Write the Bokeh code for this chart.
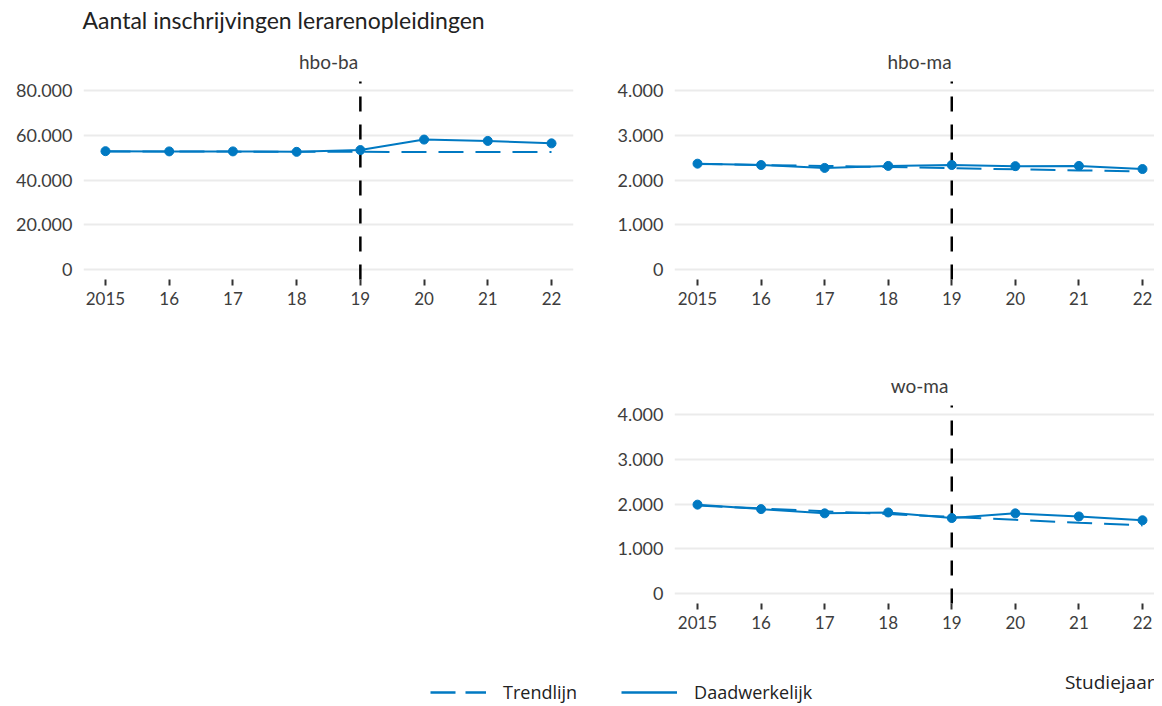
from bokeh.plotting import figure
from bokeh.models import Range1d, FixedTicker, Legend, LegendItem, Label, Spacer
from bokeh.layouts import column, row
from bokeh.embed import file_html
from bokeh.resources import INLINE

# ---------------- data ----------------
years = [2015, 2016, 2017, 2018, 2019, 2020, 2021, 2022]
year_labels = ["2015", "16", "17", "18", "19", "20", "21", "22"]
break_year = 2019

hbo_ba_actual = [53000, 52900, 52900, 52700, 53500, 58200, 57600, 56500]
hbo_ba_trend = [52900, 52850, 52800, 52750, 52700, 52650, 52650, 52600]

hbo_ma_actual = [2370, 2340, 2275, 2320, 2340, 2315, 2320, 2250]
hbo_ma_trend = [2365, 2340, 2320, 2295, 2270, 2245, 2220, 2195]

wo_ma_actual = [1990, 1890, 1795, 1815, 1690, 1795, 1725, 1640]
wo_ma_trend = [1970, 1905, 1840, 1780, 1715, 1650, 1585, 1525]

ba_ticks = [0, 20000, 40000, 60000, 80000]
ba_labels = ["0", "20.000", "40.000", "60.000", "80.000"]
ma_ticks = [0, 1000, 2000, 3000, 4000]
ma_labels = ["0", "1.000", "2.000", "3.000", "4.000"]

title_text = "Aantal inschrijvingen lerarenopleidingen"
legend_labels = ["Trendlijn", "Daadwerkelijk"]
x_title = "Studiejaar"

# ---------------- style ----------------
BLUE = "#0079C2"
TEXT = "#3d3d3d"
DARK = "#222222"
GRID = "#ebebeb"
FONT = "Lato"
LFONT = "Open Sans"
PANEL_H = 202      # height of the plotting panel (px)
STRIP_H = 33       # strip above the panel that holds the facet title
PX_PER_T = 178.6   # px between 0 and the top tick


def make_panel(name, actual, trend, ticks, labels, width, mb_left, mb_right,
               x_start, x_end, mb_bottom):
    top = ticks[-1]
    y_lo = -14 / PX_PER_T * top
    y_panel_top = top + 9.4 / PX_PER_T * top
    y_hi = y_panel_top + STRIP_H / PX_PER_T * top
    p = figure(width=width, height=STRIP_H + PANEL_H + mb_bottom,
               output_backend="svg", toolbar_location=None,
               min_border_left=mb_left, min_border_right=mb_right,
               min_border_top=0, min_border_bottom=mb_bottom,
               x_range=Range1d(x_start, x_end),
               y_range=Range1d(y_lo, y_hi))
    p.outline_line_color = None

    # facet strip title
    p.add_layout(Label(x=245, y=PANEL_H + 20, x_units="screen", y_units="screen",
                       text=name, text_align="center", text_baseline="middle",
                       text_font=FONT, text_font_size="19px", text_color=TEXT))

    p.xgrid.grid_line_color = None
    p.ygrid.grid_line_color = GRID
    p.ygrid.grid_line_width = 2
    p.ygrid.ticker = FixedTicker(ticks=ticks)

    p.yaxis.ticker = FixedTicker(ticks=ticks)
    p.yaxis.major_label_overrides = {t: l for t, l in zip(ticks, labels)}
    p.yaxis.axis_line_color = None
    p.yaxis.major_tick_line_color = None
    p.yaxis.minor_tick_line_color = None
    p.yaxis.major_label_standoff = 5
    p.yaxis.major_label_text_font = FONT
    p.yaxis.major_label_text_font_size = "18px"
    p.yaxis.major_label_text_color = TEXT

    p.xaxis.ticker = FixedTicker(ticks=years)
    p.xaxis.major_label_overrides = {y: l for y, l in zip(years, year_labels)}
    p.xaxis.axis_line_color = None
    p.xaxis.minor_tick_line_color = None
    p.xaxis.major_tick_line_color = "#333333"
    p.xaxis.major_tick_line_width = 2
    p.xaxis.major_tick_in = 4
    p.xaxis.major_tick_out = 2
    p.xaxis.major_label_standoff = 6
    p.xaxis.major_label_text_font = FONT
    p.xaxis.major_label_text_font_size = "17px"
    p.xaxis.major_label_text_color = TEXT

    # break line (spans the panel, not the strip)
    p.segment(x0=[break_year], y0=[y_panel_top], x1=[break_year], y1=[y_lo],
              line_color="black", line_width=2.5, line_dash="15 13",
              line_dash_offset=13)
    p.line(years, trend, line_color=BLUE, line_width=2, line_dash="25 12")
    p.line(years, actual, line_color=BLUE, line_width=2)
    p.scatter(years, actual, size=9, fill_color=BLUE, line_color=BLUE)
    return p


W = 1154

# header
HEAD_H = 48
head = figure(width=W, height=HEAD_H, output_backend="svg", toolbar_location=None,
              min_border=0, x_range=Range1d(0, 1), y_range=Range1d(0, 1))
head.axis.visible = False
head.grid.visible = False
head.outline_line_color = None
head.add_layout(Label(x=82, y=HEAD_H - 19, x_units="screen", y_units="screen",
                      text=title_text, text_align="left", text_baseline="middle",
                      text_font=FONT, text_font_size="23px", text_color=DARK))

p1 = make_panel("hbo-ba", hbo_ba_actual, hbo_ba_trend, ba_ticks, ba_labels,
                593, 83, 20, 2014.655, 2022.345, 89)
p2 = make_panel("hbo-ma", hbo_ma_actual, hbo_ma_trend, ma_ticks, ma_labels,
                561, 81, 0, 2014.638, 2022.189, 89)
p3 = make_panel("wo-ma", wo_ma_actual, wo_ma_trend, ma_ticks, ma_labels,
                561, 81, 0, 2014.638, 2022.189, 58)

# legend strip
LEG_H = 39
leg = figure(width=W, height=LEG_H, output_backend="svg", toolbar_location=None,
             min_border=0, x_range=Range1d(0, 1), y_range=Range1d(0, 1))
leg.axis.visible = False
leg.grid.visible = False
leg.outline_line_color = None
r_trend = leg.line([5, 6], [5, 5], line_color=BLUE, line_width=2.5, line_dash="25 10")
r_act = leg.line([5, 6], [5, 5], line_color=BLUE, line_width=2.5)
legend = Legend(items=[LegendItem(label=legend_labels[0], renderers=[r_trend]),
                       LegendItem(label=legend_labels[1], renderers=[r_act])],
                orientation="horizontal", location=(430, 0),
                glyph_width=56, glyph_height=20, label_standoff=17, spacing=44,
                padding=0, margin=0, border_line_color=None,
                background_fill_alpha=0,
                label_text_font=LFONT, label_text_font_size="18px",
                label_text_color=DARK)
leg.add_layout(legend, "center")
leg.add_layout(Label(x=W, y=23, x_units="screen", y_units="screen",
                     text=x_title, text_align="right", text_baseline="middle",
                     text_font=LFONT, text_font_size="19px", text_color=DARK))

layout = column(head,
                row(p1, p2, spacing=0),
                row(Spacer(width=593, height=10), p3, spacing=0),
                leg, spacing=0)

open("out.html", "w").write(file_html(layout, INLINE))
